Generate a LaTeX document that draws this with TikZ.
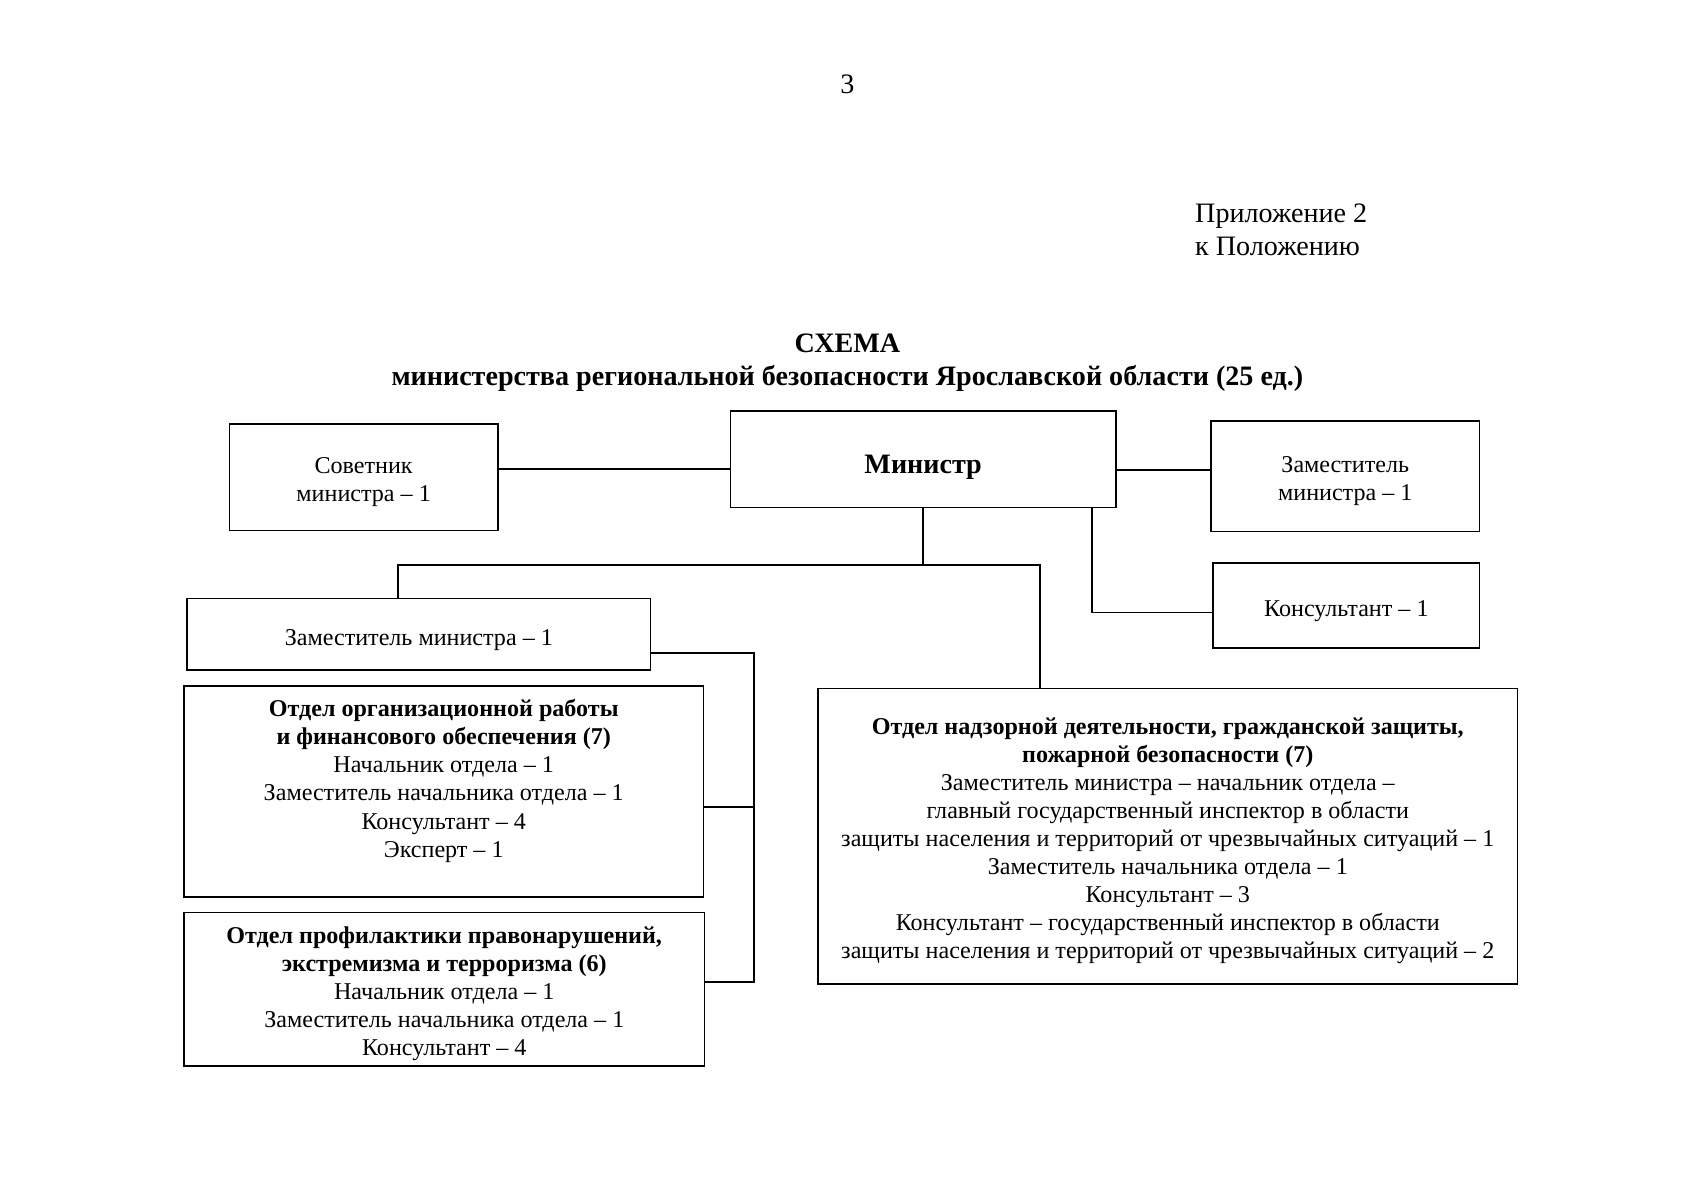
\documentclass[tikz,border=0pt]{standalone}
\usepackage{fontspec}
\setmainfont{Liberation Serif}
\newlength\pxu
\setlength\pxu{0.18941mm}
\newcommand\bodyfnt{\fontsize{12}{13.95}\selectfont}
\newcommand\headfnt{\fontsize{14}{16.5}\selectfont}
\begin{document}
\begin{tikzpicture}[x=0.18941mm,y=-0.18941mm,
  box/.style={draw, line width=0.8pt, inner sep=0pt},
  txt/.style={align=center, inner sep=0pt, font=\bodyfnt},
  conn/.style={line width=0.9pt},
  plain/.style={inner sep=0pt, font=\headfnt}]
\useasboundingbox[fill=white] (0,0) rectangle (1568,1109);

% header texts
\node[plain] (pg) at (783,78) {3};
\node[plain, anchor=west, align=left] (appx) at (1104,212) {Приложение 2\\к Положению};
\node[plain, align=center, font=\headfnt\bfseries] (title) at (783,335) {СХЕМА\\министерства региональной безопасности Ярославской области (25 ед.)};

% boxes
\node[box, minimum width=248\pxu, minimum height=98\pxu] (sov) at (336,441) {};
\node[box, minimum width=356\pxu, minimum height=89\pxu] (min) at (853,424.5) {};
\node[box, minimum width=248\pxu, minimum height=102\pxu] (zamr) at (1243,440) {};
\node[box, minimum width=246\pxu, minimum height=79\pxu] (kons) at (1244,559.5) {};
\node[box, minimum width=428\pxu, minimum height=66\pxu] (zaml) at (387,586) {};
\node[box, minimum width=480\pxu, minimum height=195\pxu] (org) at (410,731.5) {};
\node[box, minimum width=481\pxu, minimum height=142\pxu] (prof) at (410.5,914) {};
\node[box, minimum width=646\pxu, minimum height=273\pxu] (nadz) at (1079,772.5) {};

% box texts
\node[txt] (sovt) at ([yshift=-4\pxu]sov.center) {Советник\\министра – 1};
\node[txt, font=\headfnt\bfseries] (mint) at ([yshift=-7\pxu]min.center) {Министр};
\node[txt] (zamrt) at ([yshift=-4.5\pxu]zamr.center) {Заместитель\\министра – 1};
\node[txt] (konst) at ([yshift=-5\pxu]kons.center) {Консультант – 1};
\node[txt] (zamlt) at ([yshift=-5\pxu]zaml.center) {Заместитель министра – 1};
\node[txt] (orgt) at ([yshift=-4.5\pxu]org.center) {\textbf{Отдел организационной работы}\\\textbf{и финансового обеспечения (7)}\\Начальник отдела – 1\\Заместитель начальника отдела – 1\\Консультант – 4\\Эксперт – 1\\\strut};
\node[txt] (proft) at ([yshift=-4\pxu]prof.center) {\textbf{Отдел профилактики правонарушений,}\\\textbf{экстремизма и терроризма (6)}\\Начальник отдела – 1\\Заместитель начальника отдела – 1\\Консультант – 4};
\node[txt] (nadzt) at ([yshift=-4.5\pxu]nadz.center) {\textbf{Отдел надзорной деятельности, гражданской защиты,}\\\textbf{пожарной безопасности (7)}\\Заместитель министра – начальник отдела –\\главный государственный инспектор в области\\защиты населения и территорий от чрезвычайных ситуаций – 1\\Заместитель начальника отдела – 1\\Консультант – 3\\Консультант – государственный инспектор в области\\защиты населения и территорий от чрезвычайных ситуаций – 2};

% helper coordinates
\coordinate (bus) at (851,522);
\coordinate (tr) at (697,0);
\coordinate (se) at ([yshift=8\pxu]sov.east);
\coordinate (me) at ([yshift=-9.5\pxu]min.east);
\coordinate (ms) at ([xshift=156\pxu]min.south);
\coordinate (kw) at ([yshift=-6.5\pxu]kons.west);
\coordinate (zn) at ([xshift=-19\pxu]zaml.north);
\coordinate (nn) at ([xshift=-118\pxu]nadz.north);
\coordinate (ze) at ([yshift=-17\pxu]zaml.east);
\coordinate (oe) at ([yshift=-14.5\pxu]org.east);
\coordinate (pe) at ([yshift=7\pxu]prof.east);

% connectors
\draw[conn] (se) -- (se -| min.west);
\draw[conn] (me) -- (me -| zamr.west);
\draw[conn] (ms) |- (kw);
\draw[conn] (min.south) -- (min.south |- bus);
\draw[conn] (zn) |- (min.south |- bus) -| (nn);
\draw[conn] (ze) -| (tr |- pe) -- (pe);
\draw[conn] (oe) -- (tr |- oe);
\end{tikzpicture}
\end{document}
